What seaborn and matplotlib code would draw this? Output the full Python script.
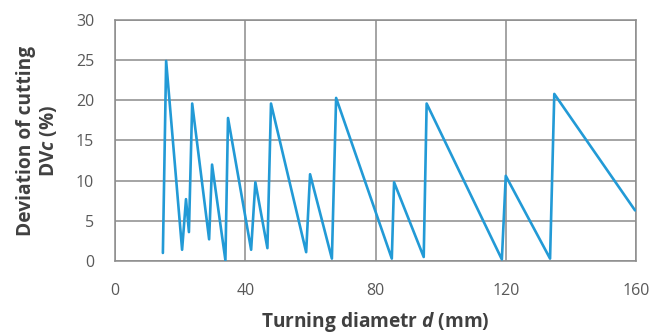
import numpy as np
import matplotlib
matplotlib.use("Agg")
import matplotlib.pyplot as plt
import seaborn as sns
import pandas as pd

# valores
diametro = [14.7, 15.7, 20.6, 21.8, 22.7, 23.7, 28.9, 29.8, 33.9, 34.7,
            41.8, 43.1, 46.8, 47.9, 58.7, 59.9, 66.6, 67.9, 85.0, 85.7,
            94.8, 95.7, 118.8, 120.0, 133.6, 134.9, 159.7]
desviacion = [1.0, 24.9, 1.4, 7.7, 3.6, 19.6, 2.7, 12.0, 0.1, 17.8,
              1.4, 9.8, 1.6, 19.6, 1.1, 10.8, 0.3, 20.3, 0.3, 9.8,
              0.5, 19.6, 0.2, 10.6, 0.3, 20.8, 6.3]
x_ticks = [0, 40, 80, 120, 160]
y_ticks = [0, 5, 10, 15, 20, 25, 30]

df = pd.DataFrame({"d": diametro, "dv": desviacion})

sns.set_theme(style="white")
plt.rcParams['font.family'] = ['Open Sans', 'DejaVu Sans']
plt.rcParams['mathtext.fontset'] = 'custom'
plt.rcParams['mathtext.it'] = 'Open Sans:italic:bold'
plt.rcParams['mathtext.rm'] = 'Open Sans:bold'

fig = plt.figure(figsize=(6.52, 3.33), dpi=100)
ax = fig.add_axes([0.1764, 0.2162, 0.7991, 0.7238])

sns.lineplot(data=df, x="d", y="dv", ax=ax, sort=False, color="#229ad6",
             linewidth=1.9, zorder=3)

ax.set_xlim(0, 160)
ax.set_ylim(0, 30)
ax.set_xticks(x_ticks)
ax.set_yticks(y_ticks)
ax.grid(True, color="#8c8c8c", linewidth=1.1, zorder=1)
for s in ax.spines.values():
    s.set_color("#8c8c8c")
    s.set_linewidth(1.1)
ax.tick_params(axis="x", length=0, labelsize=11.5, labelcolor="#595959", pad=16)
ax.tick_params(axis="y", length=0, labelsize=11.5, labelcolor="#595959", pad=15)

ax.set_xlabel("Turning diametr $\\it{d}$ (mm)", fontsize=13.8, fontweight="bold",
              color="#404040", labelpad=8)
ax.set_ylabel("Deviation of cutting\nDV$\\it{c}$ (%)", fontsize=13.8, fontweight="bold",
              color="#404040", labelpad=12, linespacing=1.15)

plt.savefig("out.png", dpi=100)
plt.close()
